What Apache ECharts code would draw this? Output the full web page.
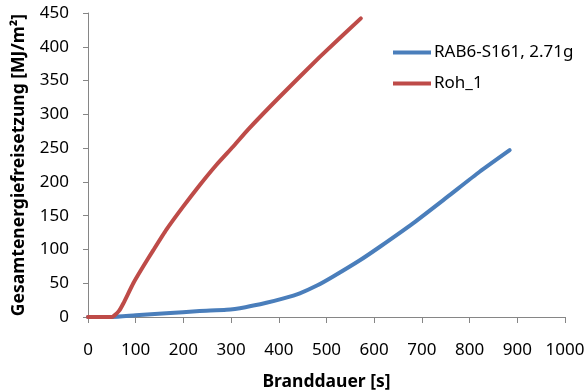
<!DOCTYPE html>
<html>
<head>
<meta charset="utf-8">
<script src="https://cdn.jsdelivr.net/npm/echarts@6/dist/echarts.min.js"></script>
<style>html,body{margin:0;padding:0;background:#fff}#c{width:587px;height:392px}</style>
</head>
<body>
<div id="c"></div>
<script>
var seriesNames = ['RAB6-S161, 2.71g', 'Roh_1'];
var timeBlue = [0, 50, 100, 164, 234, 290, 330, 374, 410, 444, 480, 514, 570, 612, 682, 752, 821, 884];
var energyBlue = [0, 0, 2.5, 5.4, 8.9, 10.6, 14.5, 21, 27.5, 35, 46.5, 60, 84, 104, 139, 177, 215, 247];
var timeRed = [0, 50, 55, 65, 74, 95, 115, 137, 164, 199, 234, 269, 304, 335, 402, 486, 572];
var energyRed = [0, 0, 2, 9, 20, 50, 74, 99, 129, 163, 195, 225, 252, 277, 326, 385, 442];
var xTicks = [0, 100, 200, 300, 400, 500, 600, 700, 800, 900, 1000];
var yTicks = [0, 50, 100, 150, 200, 250, 300, 350, 400, 450];

function pairs(xs, ys) { return xs.map(function (x, i) { return [x, ys[i]]; }); }

var font = 'Noto Sans';
var axisCol = '#868686';
var chart = echarts.init(document.getElementById('c'), null, { renderer: 'canvas' });
chart.setOption({
  animation: false,
  backgroundColor: '#fff',
  grid: { left: 88, right: 22, top: 13, bottom: 75, containLabel: false, outerBoundsMode: 'none' },
  legend: {
    orient: 'vertical', left: 388, top: 39, itemGap: 14,
    itemWidth: 38, itemHeight: 14,
    textStyle: { fontFamily: font, fontSize: 17, color: '#000', padding: [0, 0, 0, -2] },
    data: seriesNames.map(function (n) { return { name: n, icon: 'path://M0,0 L38,0 L38,4 L0,4 Z' }; })
  },
  xAxis: {
    type: 'value', min: xTicks[0], max: xTicks[xTicks.length - 1], interval: 100,
    name: 'Branddauer [s]', nameLocation: 'middle', nameGap: 56,
    nameTextStyle: { fontFamily: font, fontSize: 17.5, fontWeight: 'bold', color: '#000' },
    axisLine: { show: true, lineStyle: { color: axisCol, width: 1 } },
    axisTick: { show: true, length: 6, lineStyle: { color: axisCol } },
    axisLabel: { fontFamily: font, fontSize: 17, color: '#000', margin: 25, formatter: function (v) { return String(v); } },
    splitLine: { show: false }
  },
  yAxis: {
    type: 'value', min: yTicks[0], max: yTicks[yTicks.length - 1], interval: 50,
    name: 'Gesamtenergiefreisetzung [MJ/m²]', nameLocation: 'middle', nameGap: 60, nameRotate: 90,
    nameTextStyle: { fontFamily: font, fontSize: 17.5, fontWeight: 'bold', color: '#000' },
    axisLine: { show: true, lineStyle: { color: axisCol, width: 1 } },
    axisTick: { show: true, length: 5, lineStyle: { color: axisCol } },
    axisLabel: { fontFamily: font, fontSize: 17, color: '#000', margin: 19 },
    splitLine: { show: false }
  },
  series: [
    { name: seriesNames[0], type: 'line', data: pairs(timeBlue, energyBlue), showSymbol: false, symbol: 'none', smooth: 0.2,
      lineStyle: { color: '#4A7EBB', width: 4, cap: 'round', join: 'round' }, itemStyle: { color: '#4A7EBB' } },
    { name: seriesNames[1], type: 'line', data: pairs(timeRed, energyRed), showSymbol: false, symbol: 'none', smooth: 0.15,
      lineStyle: { color: '#BE4B48', width: 4, cap: 'round', join: 'round' }, itemStyle: { color: '#BE4B48' } }
  ]
});
</script>
</body>
</html>
